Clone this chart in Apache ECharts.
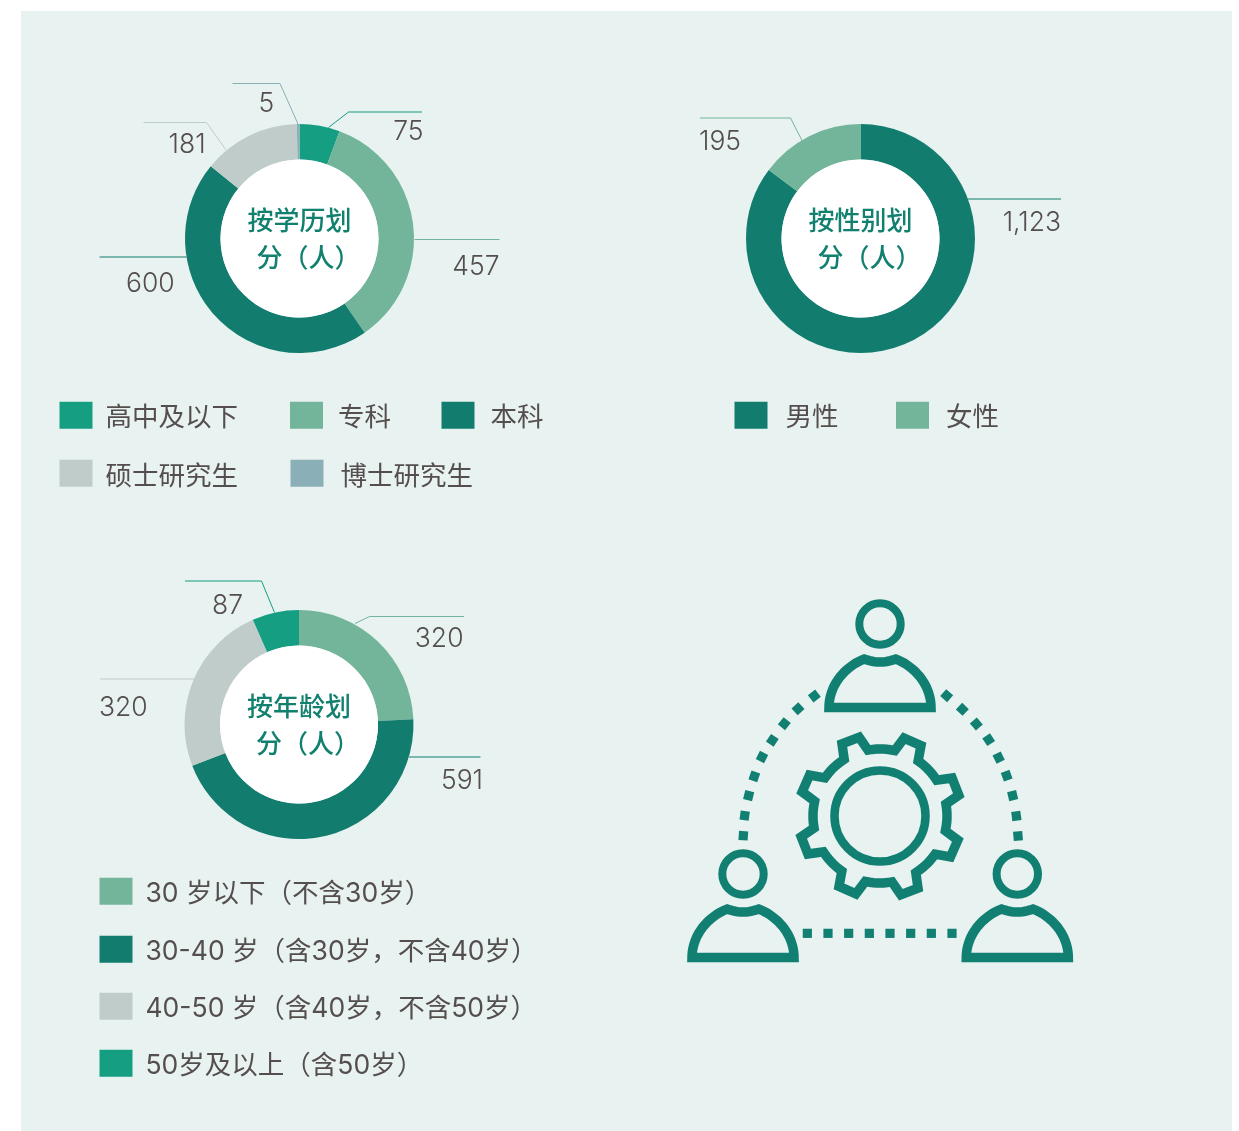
<!DOCTYPE html>
<html>
<head>
<meta charset="utf-8">
<style>html,body{margin:0;padding:0;background:#fff}#main{width:1239px;height:1131px}</style>
<script src="https://cdn.jsdelivr.net/npm/echarts@6/dist/echarts.min.js"></script>
</head>
<body>
<div id="main"></div>
<script>
// ---- data ----
const eduNames = ['高中及以下', '专科', '本科', '硕士研究生', '博士研究生'];
const eduValues = [75, 457, 600, 181, 5];
const genderNames = ['男性', '女性'];
const genderValues = [1123, 195];
const ageNames = ['30 岁以下（不含30岁）', '30-40 岁（含30岁，不含40岁）', '40-50 岁（含40岁，不含50岁）', '50岁及以上（含50岁）'];
const ageValues = [320, 591, 320, 87];
const eduTitle = ['按学历划', '分（人）'];
const genderTitle = ['按性别划', '分（人）'];
const ageTitle = ['按年龄划', '分（人）'];

// ---- styles ----
const C = {teal: '#169e82', sage: '#73b59a', deep: '#127c6e', grey: '#c0ccca', blue: '#8aafb6'};
const eduColors = [C.teal, C.sage, C.deep, C.grey, C.blue];
const genderColors = [C.deep, C.sage];
const ageColors = [C.sage, C.deep, C.grey, C.teal];
const ICON = '#117f71', TEXT = '#544f4e', TITLE = '#12806f', BG = '#e8f2f0';
const FONT = '"Noto Sans CJK SC", sans-serif';
const NUMFONT = 'Inter, "Noto Sans CJK SC", sans-serif';

// pie placement and leader geometry; leaders are [line points relative to pie centre, label anchor, align]
const eduPie = {c: [299.5, 238.5], leaders: [
  {p: [[29, -111], [49, -126.5], [122.5, -126.5]], l: [124, -106], a: 'right'},
  {p: [[115, 1], [200, 1]], l: [200, 29], a: 'right'},
  {p: [[-113, 18.5], [-200, 18.5]], l: [-173.5, 46], a: 'left'},
  {p: [[-73.5, -88.5], [-93, -116], [-156, -116]], l: [-131, -93], a: 'left'},
  {p: [[-1.5, -114.5], [-19.5, -155], [-67, -155]], l: [-41, -134], a: 'left'}
]};
const genderPie = {c: [860.5, 238.5], leaders: [
  {p: [[107, -39.5], [200.5, -39.5]], l: [200.5, -15], a: 'right'},
  {p: [[-58, -97], [-70, -120.5], [-160.5, -120.5]], l: [-161.5, -96], a: 'left'}
]};
const agePie = {c: [299, 724.5], leaders: [
  {p: [[56, -101], [70.5, -108], [165, -108]], l: [164.5, -85], a: 'right'},
  {p: [[110, 32.5], [181.5, 32.5]], l: [184, 57], a: 'right'},
  {p: [[-104, -45.5], [-199, -45.5]], l: [-200, -16], a: 'left'},
  {p: [[-24.5, -112], [-37.5, -143.5], [-114, -143.5]], l: [-87, -118], a: 'left'}
]};
const R = [79, 114.5];

function pieSeries(names, values, colors, pie) {
  return {
    type: 'pie', center: pie.c, radius: R, startAngle: 90, clockwise: true,
    silent: true, animation: false, avoidLabelOverlap: false, minShowLabelAngle: 0,
    data: names.map((n, i) => ({name: n, value: values[i], itemStyle: {color: colors[i]}})),
    label: {
      show: true, position: 'outside', formatter: p => p.value.toLocaleString('en-US'),
      fontFamily: NUMFONT, fontSize: 26.5, fontWeight: 300, color: TEXT
    },
    labelLine: {show: true, lineStyle: {width: 1}},
    labelLayout: params => {
      const L = pie.leaders[params.dataIndex];
      return {
        x: pie.c[0] + L.l[0], y: pie.c[1] + L.l[1], align: L.a, verticalAlign: 'middle',
        labelLinePoints: L.p.map(q => [pie.c[0] + q[0], pie.c[1] + q[1]])
      };
    }
  };
}

function legendItem(name, x, y, padL, padT) {
  const text = {fontFamily: NUMFONT, fontSize: 26.5, fontWeight: 400, color: TEXT, lineHeight: 20, padding: [padT, 0, 0, padL]};
  return {
    data: [name], left: x, top: y - padT / 2, padding: 0, icon: 'rect', itemWidth: 33, itemHeight: 27,
    selectedMode: false, itemGap: 0,
    formatter: n => '{a|' + n + '}',
    textStyle: {rich: {a: text}}
  };
}

// ---- icon ----
function person(hx, hy) {
  const pts = [[-51, 83.5]];
  const cub = (a, b, c, d) => { for (let i = 1; i <= 24; i++) { const t = i / 24, u = 1 - t;
    pts.push([u*u*u*a[0]+3*u*u*t*b[0]+3*u*t*t*c[0]+t*t*t*d[0], u*u*u*a[1]+3*u*u*t*b[1]+3*u*t*t*c[1]+t*t*t*d[1]]); } };
  cub([-51, 83.5], [-51, 62], [-36, 43], [-15.7, 35]);
  for (let i = 1; i <= 12; i++) { const t = i / 12, u = 1 - t;
    pts.push([u*u*-15.7+2*u*t*0+t*t*15.7, u*u*35+2*u*t*41+t*t*35]); }
  cub([15.7, 35], [36, 43], [51, 62], [51, 83.5]);
  return [
    {type: 'circle', z: 5, shape: {cx: hx, cy: hy, r: 20.7}, style: {fill: 'none', stroke: ICON, lineWidth: 8}},
    {type: 'polygon', z: 5, shape: {points: pts.map(p => [p[0] + hx, p[1] + hy])},
     style: {fill: 'none', stroke: ICON, lineWidth: 9.5, lineJoin: 'miter'}}
  ];
}
function gear(cx, cy) {
  const rBody = 67, rTip = 81.5, rot = 1.2, pts = [];
  const P = (deg, r) => { const a = (deg - 90) * Math.PI / 180; return [cx + r * Math.cos(a), cy + r * Math.sin(a)]; };
  for (let k = 0; k < 8; k++) {
    const m = 22.5 + rot + k * 45;
    pts.push(P(m - 11, rBody), P(m - 6.5, rTip), P(m + 6.5, rTip), P(m + 11, rBody));
    for (let d = 15; d <= 30; d += 3) pts.push(P(m + d, rBody));
  }
  return [
    {type: 'polygon', z: 5, shape: {points: pts}, style: {fill: 'none', stroke: ICON, lineWidth: 9.5, lineJoin: 'miter'}},
    {type: 'circle', z: 5, shape: {cx, cy, r: 45.5}, style: {fill: 'none', stroke: ICON, lineWidth: 8.5}}
  ];
}
function dots(list) {
  return list.map((d, i) => {
    const a = list[Math.max(i - 1, 0)], b = list[Math.min(i + 1, list.length - 1)];
    return {type: 'rect', z: 5, x: d[0], y: d[1], rotation: -Math.atan2(b[1] - a[1], b[0] - a[0]),
      shape: {x: -4.6, y: -4.6, width: 9.2, height: 9.2}, style: {fill: ICON}};
  });
}
const Z = p => [670 + p[0] / 3, 590 + p[1] / 3];
const dotsLeft = [[220,737],[224,677],[236,617],[253,559],[276,501],[307,451],[343,401],[384,356],[433,318]].map(Z);
const dotsRight = [[1044,738],[1039,678],[1028,617],[1010,557],[986,503],[956,449],[919,402],[877,358],[830,317]].map(Z);
const dotsBase = [[412,1030],[474,1030],[536,1030],[598,1030],[660,1030],[722,1030],[784,1030],[846,1030]].map(Z);

function centre(pie, lines) {
  return [
    {type: 'circle', z: 4, shape: {cx: pie.c[0], cy: pie.c[1], r: R[0]}, style: {fill: '#fff'}},
    {type: 'text', z: 6, x: pie.c[0], y: pie.c[1] - 18, style: {text: lines[0], fill: TITLE, font: '500 26px ' + FONT, textAlign: 'center', textVerticalAlign: 'middle'}},
    {type: 'text', z: 6, x: pie.c[0] + 9, y: pie.c[1] + 18.5, style: {text: lines[1], fill: TITLE, font: '500 26px ' + FONT, textAlign: 'center', textVerticalAlign: 'middle'}}
  ];
}

const option = {
  backgroundColor: '#fff',
  animation: false,
  legend: [
    legendItem(eduNames[0], 59.5, 402, 8, 6),
    legendItem(eduNames[1], 290, 402, 10, 6),
    legendItem(eduNames[2], 441.5, 402, 11, 6),
    legendItem(eduNames[3], 59.5, 460, 8, 8),
    legendItem(eduNames[4], 290.5, 460, 12, 8),
    legendItem(genderNames[0], 734.5, 402, 13, 6),
    legendItem(genderNames[1], 896, 402, 12, 6),
    legendItem(ageNames[0], 99.5, 878, 8, 6),
    legendItem(ageNames[1], 99.5, 936, 8, 6),
    legendItem(ageNames[2], 99.5, 993, 8, 6),
    legendItem(ageNames[3], 99.5, 1050, 8, 6)
  ],
  series: [
    pieSeries(eduNames, eduValues, eduColors, eduPie),
    pieSeries(genderNames, genderValues, genderColors, genderPie),
    pieSeries(ageNames, ageValues, ageColors, agePie)
  ],
  graphic: {elements: [
    {type: 'rect', z: -10, shape: {x: 21, y: 11, width: 1211, height: 1120}, style: {fill: BG}},
    ...centre(eduPie, eduTitle), ...centre(genderPie, genderTitle), ...centre(agePie, ageTitle),
    ...person(880, 624), ...person(743, 874), ...person(1017.3, 874),
    ...gear(880, 816),
    ...dots(dotsLeft), ...dots(dotsRight), ...dots(dotsBase)
  ]}
};
echarts.init(document.getElementById('main'), null, {renderer: 'canvas'}).setOption(option);
</script>
</body>
</html>
